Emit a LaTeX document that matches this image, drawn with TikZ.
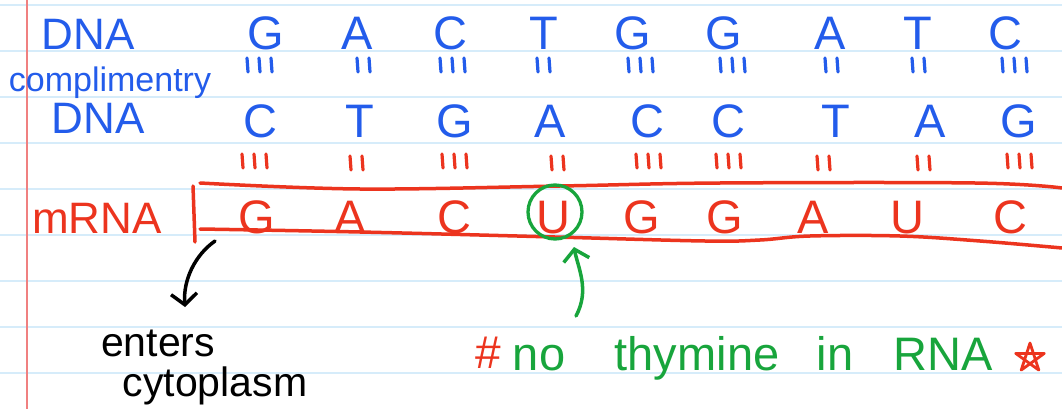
\documentclass[tikz,border=0pt]{standalone}
\usepackage{fontspec}
\setmainfont{Liberation Sans}
\usetikzlibrary{arrows.meta}
\definecolor{inkblue}{RGB}{35,92,235}
\definecolor{inkred}{RGB}{236,52,30}
\definecolor{inkgreen}{RGB}{24,165,60}
\definecolor{paperline}{RGB}{214,236,250}
\definecolor{marginred}{RGB}{240,128,128}
\tikzset{
  txt/.style={inner sep=0pt, anchor=base},
  big/.style={txt, font=\fontsize{47}{47}\selectfont},
  lab/.style={txt, font=\fontsize{44}{44}\selectfont},
  note/.style={txt, font=\fontsize{41}{41}\selectfont},
  bond/.style={line width=3.2pt, line cap=round},
  ink/.style={line width=3.5pt, line cap=round, line join=round},
  tip/.style={-{Straight Barb[length=11pt,width=26pt,line width=3.5pt]}},
}
\begin{document}
\begin{tikzpicture}[x=1pt,y=-1pt]
\useasboundingbox (0,0) rectangle (1062,409);
\fill[white] (0,0) rectangle (1062,409);
% ruled paper
\foreach \y in {5,51,...,373} \draw[paperline, line width=1.5pt] (0,\y) -- (1062,\y);
\draw[marginred, line width=1.5pt] (27,0) -- (27,409);

% labels on the left
\node[lab, inkblue] (dna1) at (88,50) {DNA};
\node[txt, inkblue, font=\fontsize{34}{34}\selectfont] (compl) at (110,92) {complimentry};
\node[lab, inkblue] (dna2) at (98,134) {DNA};
\node[lab, inkred] (mrna) at (97,233) {mRNA};

% DNA strand
\foreach \x/\l [count=\i] in {266/G,357/A,450/C,544/T,633/G,724/G,830/A,918/T,1005/C}
  \node[big, inkblue] (d\i) at (\x,50) {\l};
% complementary strand
\foreach \x/\l [count=\i] in {260/C,360/T,455/G,550/A,647/C,728/C,836/T,930/A,1019/G}
  \node[big, inkblue] (c\i) at (\x,138) {\l};
% mRNA strand
\foreach \x/\l [count=\i] in {257/G,350/A,454/C,553/U,642/G,725/G,813/A,907/U,1010/C}
  \node[big, inkred] (m\i) at (\x,233) {\l};

% hydrogen bond marks (blue)
\foreach \x in {259,452,640,732,1014}
  \foreach \dx in {-12,0,12} \draw[bond, inkblue] (\x+\dx,58) -- (\x+\dx+1,72);
\foreach \x in {363,543,831,918}
  \foreach \dx in {-6,6} \draw[bond, inkblue] (\x+\dx,58) -- (\x+\dx+1,72);
% hydrogen bond marks (red)
\foreach \x in {254,454,648,728,1019}
  \foreach \dx in {-12,0,12} \draw[bond, inkred] (\x+\dx,154) -- (\x+\dx+1,168);
\foreach \x in {356,557,823,923}
  \foreach \dx in {-6,6} \draw[bond, inkred] (\x+\dx,156) -- (\x+\dx+1,170);

% mRNA box
\draw[ink, inkred] (193,186) -- (195,242);
\draw[ink, inkred] plot[smooth, tension=0.6] coordinates {(200,183) (360,189) (560,186) (720,183) (975,183) (1062,188)};
\draw[ink, inkred] plot[smooth, tension=0.6] coordinates {(200,229) (360,232) (555,237) (705,241) (760,240) (810,236) (900,236) (980,241) (1062,248)};

% circle around U
\node[draw=inkgreen, line width=3.3pt, circle, minimum size=54pt, inner sep=0pt] (circ) at (555,212) {};

% notes
\node[note, black] (enters) at (158,356) {enters};
\node[note, black] (cyto) at (215,396) {cytoplasm};
\node[txt, inkred, font=\fontsize{46}{46}\selectfont] (hash) at (488,368) {\#};
\node[big, inkgreen] (no) at (539,370) {no};
\node[big, inkgreen] (thy) at (697,370) {thymine};
\node[big, inkgreen] (in) at (835,370) {in};
\node[big, inkgreen] (rna) at (943,370) {RNA};
\draw[inkred, line width=2.8pt, line join=round, line cap=round]
  (1030,343) -- (1038.8,370.1) -- (1015.7,353.4) -- (1044.3,353.4) -- (1021.2,370.1) -- cycle;

% arrows
\coordinate (btail) at (215,241);
\coordinate (btip) at (185,307);
\draw[ink, black, tip] (btail) .. controls (195,255) and (183,280) .. (btip);
\coordinate (gtail) at (576,316);
\coordinate (gtip) at (574,247);
\draw[ink, inkgreen, tip] (gtail) .. controls (590,290) and (578,268) .. (gtip);
\end{tikzpicture}
\end{document}
